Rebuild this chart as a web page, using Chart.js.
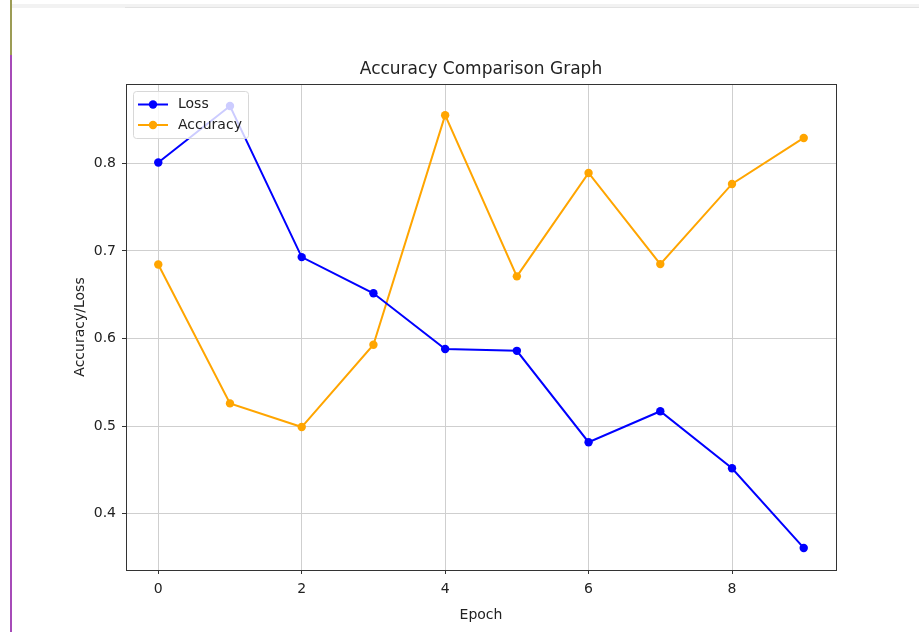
<!DOCTYPE html>
<html lang="en">
<head>
<meta charset="UTF-8">
<title>Accuracy Comparison Graph</title>
<script src="https://cdn.jsdelivr.net/npm/chart.js"></script>
<style>
  html, body { margin: 0; padding: 0; background: #fff; }
  #wrap { position: relative; width: 919px; height: 632px; }
  /* screenshot edges */
  .edge-top { position: absolute; left: 11px; top: 4px; width: 908px; height: 4px; background: #f2f2f2; }
  .edge-top2 { position: absolute; left: 125px; top: 7px; width: 794px; height: 1px; background: #e2e2e2; }
  .edge-left1 { position: absolute; left: 10px; top: 0; width: 2px; height: 55px; background: #9c9c55; }
  .edge-left2 { position: absolute; left: 10px; top: 55px; width: 2px; height: 577px; background: #a64bb8; }
  canvas { position: absolute; left: 0; top: 0; }
</style>
</head>
<body>
<div id="wrap">
  <canvas id="accChart" width="919" height="632"></canvas>
  <div class="edge-top"></div>
  <div class="edge-top2"></div>
  <div class="edge-left1"></div>
  <div class="edge-left2"></div>
</div>
<script>
// data
const epochs = [0, 1, 2, 3, 4, 5, 6, 7, 8, 9];
const lossValues = [0.801, 0.8655, 0.693, 0.6517, 0.588, 0.586, 0.4817, 0.517, 0.452, 0.361];
const accuracyValues = [0.6845, 0.526, 0.499, 0.593, 0.855, 0.671, 0.789, 0.685, 0.7765, 0.829];
const xTickValues = [0, 2, 4, 6, 8];
const yTickValues = [0.4, 0.5, 0.6, 0.7, 0.8];

Chart.defaults.font.family = "'DejaVu Sans', sans-serif";
Chart.defaults.color = '#222';

// box round the plot area (matplotlib spines)
const frame = {
    id: 'frame',
    afterDatasetsDraw(chart) {
        const a = chart.chartArea;
        const ctx = chart.ctx;
        ctx.save();
        ctx.strokeStyle = '#333';
        ctx.lineWidth = 1;
        ctx.strokeRect(Math.round(a.left) + 0.5, Math.round(a.top) + 0.5,
            Math.round(a.right - a.left), Math.round(a.bottom - a.top));
        ctx.restore();
    }
};

// legend inside the plot, upper left
const insideLegend = {
    id: 'insideLegend',
    afterDraw(chart) {
        const a = chart.chartArea;
        const ctx = chart.ctx;
        const x = a.left + 7, y = a.top + 7, w = 115, h = 47;
        ctx.save();
        ctx.fillStyle = 'rgba(255,255,255,0.8)';
        ctx.strokeStyle = '#d8d8d8';
        ctx.lineWidth = 1;
        ctx.beginPath();
        ctx.roundRect(x + 0.5, y + 0.5, w, h, 3);
        ctx.fill();
        ctx.stroke();
        ctx.font = "14px 'DejaVu Sans'";
        ctx.textBaseline = 'middle';
        chart.data.datasets.forEach((ds, i) => {
            const cy = y + 13.5 + i * 20.5;
            ctx.strokeStyle = ds.borderColor;
            ctx.lineWidth = 2;
            ctx.beginPath();
            ctx.moveTo(x + 5, cy);
            ctx.lineTo(x + 35, cy);
            ctx.stroke();
            ctx.fillStyle = ds.borderColor;
            ctx.beginPath();
            ctx.arc(x + 20, cy, 4.2, 0, Math.PI * 2);
            ctx.fill();
            ctx.fillStyle = '#222';
            ctx.fillText(ds.label, x + 45, cy);
        });
        ctx.restore();
    }
};

const ctx = document.getElementById('accChart').getContext('2d');
new Chart(ctx, {
    type: 'line',
    data: {
        datasets: [{
            label: 'Loss',
            data: epochs.map((e, i) => ({ x: e, y: lossValues[i] })),
            borderColor: '#0000ff',
            backgroundColor: '#0000ff',
            borderWidth: 2,
            pointRadius: 4.2,
            pointBorderWidth: 0,
            tension: 0
        }, {
            label: 'Accuracy',
            data: epochs.map((e, i) => ({ x: e, y: accuracyValues[i] })),
            borderColor: '#ffa500',
            backgroundColor: '#ffa500',
            borderWidth: 2,
            pointRadius: 4.2,
            pointBorderWidth: 0,
            tension: 0
        }]
    },
    options: {
        responsive: false,
        animation: false,
        layout: { padding: { left: 0, top: 0, right: 83, bottom: 0 } },
        plugins: {
            legend: { display: false },
            tooltip: { enabled: false },
            title: {
                display: true,
                text: 'Accuracy Comparison Graph',
                fullSize: false,
                color: '#222',
                font: { size: 17, weight: 'normal' },
                padding: { top: 59, bottom: 4.6 }
            }
        },
        scales: {
            x: {
                type: 'linear',
                min: -0.45,
                max: 9.45,
                afterBuildTicks: s => { s.ticks = xTickValues.map(v => ({ value: v })); },
                afterFit: s => { s.height = 62; },
                ticks: { font: { size: 14 }, padding: 7, callback: v => String(v), maxRotation: 0 },
                grid: { color: '#cfcfcf', lineWidth: 1, tickLength: 4, tickColor: '#333' },
                border: { display: false },
                title: { display: true, text: 'Epoch', font: { size: 14 }, padding: { top: 0, bottom: 8 } }
            },
            y: {
                min: 0.3358,
                max: 0.8906,
                afterBuildTicks: s => { s.ticks = yTickValues.map(v => ({ value: v })); },
                afterFit: s => { s.width = 126; },
                ticks: { font: { size: 14 }, padding: 6, callback: v => v.toFixed(1) },
                grid: { color: '#cfcfcf', lineWidth: 1, tickLength: 4, tickColor: '#333' },
                border: { display: false },
                title: { display: true, text: 'Accuracy/Loss', font: { size: 14 }, padding: { top: 71.6, bottom: 0 } }
            }
        }
    },
    plugins: [frame, insideLegend]
});
</script>
</body>
</html>
